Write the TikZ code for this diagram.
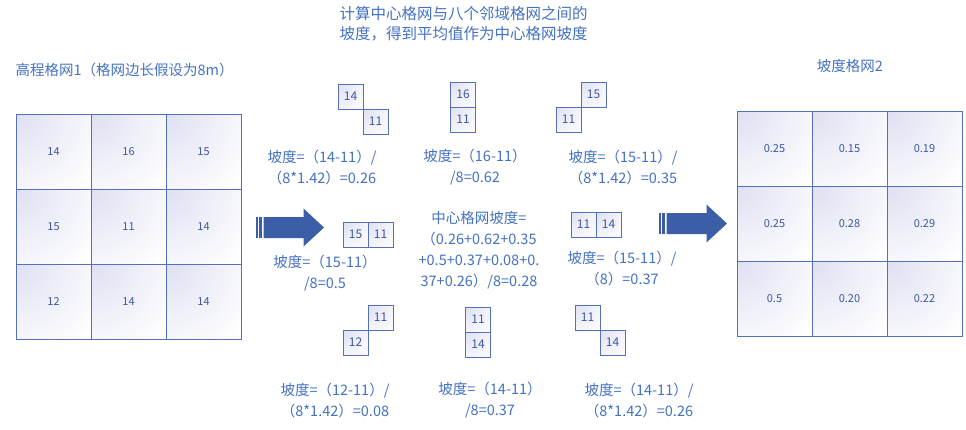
\documentclass[tikz,border=0pt]{standalone}
\usepackage{fontspec}
\setmainfont{Noto Sans CJK SC}
\usepackage{xcolor}
\usepackage{tikz}
\usetikzlibrary{positioning}
\definecolor{txtblue}{RGB}{68,114,196}
\definecolor{numblue}{RGB}{62,86,165}
\definecolor{gridblue}{RGB}{84,112,184}
\definecolor{cellshade}{RGB}{222,224,241}
\definecolor{arrowblue}{RGB}{59,94,166}
\tikzset{
  cellbase/.style={draw=gridblue, line width=1pt, inner sep=0pt, outer sep=0pt,
    fill=white, text=numblue},
  cell/.style={cellbase, minimum size=75pt, font=\fontsize{11}{13}\selectfont,
    path picture={\fill[inner color=cellshade, outer color=white]
      (path picture bounding box.north west) circle (100pt);}},
  pcell/.style={cellbase, minimum size=25pt, font=\fontsize{12}{14}\selectfont,
    path picture={\fill[inner color=cellshade, outer color=white]
      (path picture bounding box.north west) circle (36pt);}},
  lbl/.style={text=txtblue, align=center, font=\fontsize{14.5}{21}\selectfont}
}

\begin{document}
\begin{tikzpicture}[x=1pt,y=1pt]
  % page
  \useasboundingbox[fill=white] (0,0) rectangle (966,-429);
  % titles
  \node[lbl, font=\fontsize{15.5}{19.5}\selectfont] (ttop) at (463.5,-24) {计算中心格网与八个邻域格网之间的\\坡度，得到平均值作为中心格网坡度};
  \node[lbl, anchor=west] (tleft) at (12,-70) {高程格网1（格网边长假设为8m）};
  \node[lbl] (tright) at (850,-66) {坡度格网2};
  % elevation grid
  \foreach \v [count=\i from 0] in {14,16,15,15,11,14,12,14,14}{
    \pgfmathtruncatemacro{\r}{div(\i,3)}
    \pgfmathtruncatemacro{\c}{mod(\i,3)}
    \node[cell] (h\r\c) at ({53.5+75*\c},{-151.5-75*\r}) {\v};
  }
  % slope grid
  \foreach \v [count=\i from 0] in {0.25,0.15,0.19,0.25,0.28,0.29,0.5,0.20,0.22}{
    \pgfmathtruncatemacro{\r}{div(\i,3)}
    \pgfmathtruncatemacro{\c}{mod(\i,3)}
    \node[cell] (s\r\c) at ({774.5+75*\c},{-148.5-75*\r}) {\v};
  }
  % striped arrows
  \foreach \ax/\ay in {256/-227.5, 659/-223.5}{
    \fill[arrowblue] (\ax,\ay-10.5) rectangle (\ax+1.5,\ay+10.5);
    \fill[arrowblue] (\ax+3,\ay-10.5) rectangle (\ax+6,\ay+10.5);
    \fill[arrowblue] (\ax+7.5,\ay-10.5) -- (\ax+47.5,\ay-10.5) -- (\ax+47.5,\ay-19)
      -- (\ax+68,\ay) -- (\ax+47.5,\ay+19) -- (\ax+47.5,\ay+10.5) -- (\ax+7.5,\ay+10.5) -- cycle;
  }
  % neighbour pairs
  \node[pcell] (p1a) at (350.5,-96.5) {14};
  \node[pcell, below right=0pt of p1a] (p1b) {11};
  \node[pcell] (p2a) at (463,-94.5) {16};
  \node[pcell, below=0pt of p2a] (p2b) {11};
  \node[pcell] (p3a) at (593.5,-94.5) {15};
  \node[pcell, below left=0pt of p3a] (p3b) {11};
  \node[pcell] (p4a) at (355.5,-234.5) {15};
  \node[pcell, right=0pt of p4a] (p4b) {11};
  \node[pcell] (p6a) at (583.5,-224.5) {11};
  \node[pcell, right=0pt of p6a] (p6b) {14};
  \node[pcell] (p7a) at (380.5,-317.5) {11};
  \node[pcell, below left=0pt of p7a] (p7b) {12};
  \node[pcell] (p8a) at (478,-319.5) {11};
  \node[pcell, below=0pt of p8a] (p8b) {14};
  \node[pcell] (p9a) at (587.5,-317.5) {11};
  \node[pcell, below right=0pt of p9a] (p9b) {14};
  % slope formulas
  \node[lbl] (l1) at (322,-167.5) {坡度=（14-11）/\\（8*1.42）=0.26};
  \node[lbl] (l2) at (475,-167.5) {坡度=（16-11）\\/8=0.62};
  \node[lbl] (l3) at (623,-167.5) {坡度=（15-11）/\\（8*1.42）=0.35};
  \node[lbl] (l4) at (325,-273) {坡度=（15-11）\\/8=0.5};
  \node[lbl] (lc) at (479,-250) {中心格网坡度=\\（0.26+0.62+0.35\\+0.5+0.37+0.08+0.\\37+0.26）/8=0.28};
  \node[lbl] (l6) at (622,-268.5) {坡度=（15-11）/\\（8）=0.37};
  \node[lbl] (l7) at (335,-400.5) {坡度=（12-11）/\\（8*1.42）=0.08};
  \node[lbl] (l8) at (490,-400.5) {坡度=（14-11）\\/8=0.37};
  \node[lbl] (l9) at (639,-400.5) {坡度=（14-11）/\\（8*1.42）=0.26};
\end{tikzpicture}
\end{document}
